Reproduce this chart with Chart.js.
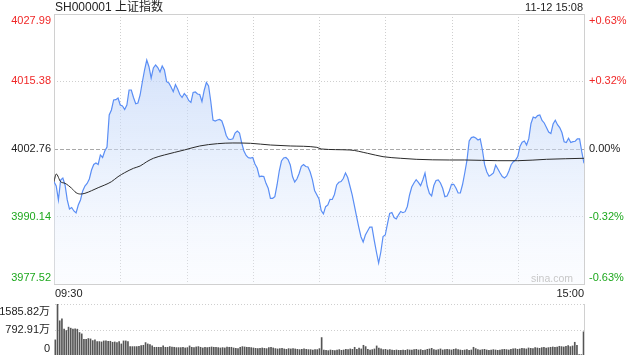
<!DOCTYPE html>
<html>
<head>
<meta charset="utf-8">
<script src="https://cdn.jsdelivr.net/npm/chart.js@4/dist/chart.umd.min.js"></script>
<style>
  html, body { margin: 0; padding: 0; background: #fff; }
  #wrap { position: relative; width: 640px; height: 360px; overflow: hidden; }
  canvas { position: absolute; left: 0; }
  #priceChart { top: 0; }
  #volChart { top: 300px; }
</style>
</head>
<body>
<div id="wrap">
  <canvas id="priceChart" width="640" height="300"></canvas>
  <canvas id="volChart" width="640" height="60"></canvas>
</div>
<script>
// ===== data =====
const title = "SH000001 上证指数";
const stamp = "11-12 15:08";
const prevClose = 4002.76;

// one price per minute, 09:30 .. 11:30 / 13:00 .. 15:00 (241 minutes)
const prices = [
    3996.64, 3995.84, 3993.23, 3996.97, 3997.34, 3996.03, 3993.23, 3991.54, 3991.82, 3991.17,
    3990.80, 3992.29, 3993.23, 3994.91, 3995.84, 3996.31, 3997.15, 3998.83, 3999.86, 4000.14,
    3999.86, 4001.64, 4001.17, 4002.39, 4003.13, 4009.11, 4010.05, 4011.92, 4011.97, 4012.29,
    4010.98, 4010.79, 4010.14, 4010.98, 4013.78, 4013.78, 4012.38, 4011.20, 4011.35, 4012.85,
    4015.28, 4017.52, 4019.39, 4018.14, 4016.03, 4017.90, 4018.46, 4017.99, 4017.15, 4018.27,
    4017.52, 4015.34, 4015.09, 4014.35, 4013.47, 4014.81, 4013.97, 4012.94, 4012.38, 4013.13,
    4012.66, 4011.82, 4011.45, 4013.32, 4013.41, 4013.04, 4012.94, 4011.63, 4013.69, 4015.19,
    4014.53, 4011.63, 4008.18, 4007.99, 4008.18, 4008.27, 4007.99, 4006.77, 4005.28, 4004.59,
    4004.53, 4004.66, 4005.75, 4006.12, 4005.75, 4003.88, 4002.38, 4001.54, 4001.15, 4001.07,
    4001.17, 3999.95, 3999.20, 3997.58, 3997.67, 3997.61, 3996.34, 3995.41, 3993.54, 3993.54,
    3993.84, 3996.03, 3998.64, 4000.51, 4001.07, 4001.17, 4000.79, 3999.76, 3997.61, 3996.59,
    3997.15, 3998.18, 3999.50, 3999.86, 3999.48, 3999.39, 3998.45, 3997.05, 3995.00, 3994.21,
    3993.41, 3991.26, 3990.64, 3991.97, 3992.29, 3993.35, 3993.32, 3994.25, 3996.03, 3996.53,
    3996.68, 3997.24, 3998.29, 3997.43, 3995.84, 3994.21, 3992.23, 3990.17, 3988.17, 3986.36,
    3985.37, 3986.68, 3987.43, 3988.17, 3988.17, 3985.74, 3983.50, 3981.44, 3983.50, 3986.40,
    3986.68, 3988.74, 3990.73, 3990.90, 3989.95, 3989.67, 3990.45, 3991.07, 3990.85, 3991.04,
    3992.01, 3994.16, 3995.65, 3996.40, 3997.02, 3996.51, 3995.91, 3996.96, 3998.27, 3995.84,
    3994.44, 3993.97, 3995.93, 3996.87, 3996.96, 3996.40, 3995.41, 3993.84, 3993.97, 3994.91,
    3996.16, 3996.16, 3995.47, 3994.53, 3994.53, 3996.12, 3998.27, 4000.61, 4004.25, 4004.89,
    4005.00, 4004.81, 4004.44, 4004.63, 4002.57, 3999.82, 3998.45, 3997.67, 3997.95, 3998.27,
    3999.76, 3999.02, 3998.27, 3997.61, 3997.33, 3997.71, 3998.64, 3999.82, 4000.38, 4000.70,
    4001.35, 4003.22, 4004.01, 4004.25, 4003.50, 4004.68, 4007.52, 4008.74, 4008.55, 4009.00,
    4009.11, 4008.08, 4007.62, 4006.77, 4005.93, 4005.65, 4007.43, 4008.12, 4007.30, 4006.76,
    4005.84, 4004.12, 4003.97, 4004.76, 4003.95, 4004.12, 4004.20, 4004.66, 4004.66, 4002.20,
    4000.08
];

// average price line, read at a few minutes
const avgMinutes = [0, 1, 3, 5, 8, 10, 12, 14, 17, 20, 23, 26, 29, 32, 36, 39, 42, 45, 50, 59,
    66, 74, 81, 89, 98, 107, 119, 121, 134, 142, 149, 157, 164, 179, 186, 201, 210, 223, 240];
const avgPrices = [3996.64, 3998.08, 3996.64, 3996.34, 3995.41, 3994.59, 3994.34, 3994.47, 3994.96, 3995.52,
    3996.03, 3996.64, 3997.58, 3998.33, 3999.15, 3999.58, 4000.38, 4001.02, 4001.64, 4002.57,
    4003.32, 4003.75, 4003.88, 4003.82, 4003.50, 4003.32, 4003.07, 4002.76, 4002.57, 4001.95,
    4001.32, 4001.02, 4000.83, 4000.70, 4000.70, 4000.57, 4000.57, 4000.83, 4001.02];

// volume per minute, in 万
const volumes = [
    470, 1585.82, 1064, 1127, 803, 761, 866, 834, 803, 813,
    803, 699, 657, 490, 490, 511, 500, 448, 469, 417,
    417, 406, 438, 438, 427, 427, 396, 406, 386, 417,
    344, 438, 438, 417, 261, 261, 261, 261, 271, 292,
    302, 386, 344, 323, 282, 240, 240, 240, 240, 282,
    240, 240, 261, 250, 240, 230, 230, 230, 240, 220,
    230, 282, 240, 230, 250, 261, 240, 220, 240, 230,
    240, 250, 240, 240, 230, 219, 230, 220, 250, 240,
    240, 219, 208, 200, 240, 260, 250, 240, 240, 230,
    219, 208, 200, 208, 219, 208, 198, 230, 240, 219,
    200, 188, 198, 208, 188, 177, 198, 188, 198, 188,
    177, 167, 177, 188, 177, 167, 167, 156, 167, 167,
    198, 542, 156, 146, 135, 156, 146, 135, 156, 167,
    146, 156, 177, 167, 188, 177, 240, 177, 219, 188,
    302, 261, 177, 156, 167, 188, 282, 219, 188, 167,
    177, 156, 167, 156, 146, 156, 146, 146, 156, 146,
    167, 156, 156, 167, 177, 156, 167, 146, 156, 177,
    188, 208, 167, 156, 167, 188, 156, 167, 177, 167,
    156, 177, 188, 167, 156, 146, 156, 167, 146, 156,
    240, 198, 167, 156, 167, 177, 156, 146, 156, 167,
    156, 146, 156, 167, 177, 167, 156, 177, 188, 198,
    177, 188, 208, 198, 188, 219, 208, 198, 229, 219,
    208, 229, 240, 219, 229, 240, 250, 240, 250, 271,
    261, 250, 271, 292, 261, 282, 396, 302, 10, 10,
    720
];

const priceTicks = [4027.99, 4015.38, 4002.76, 3990.14, 3977.52];
const pctTicks = ["+0.63%", "+0.32%", "0.00%", "-0.32%", "-0.63%"];
const timeTicks = [0, 30, 60, 90, 120, 150, 180, 210, 240];
const timeLabels = ["09:30", "15:00"];
const volTicks = [1585.82, 792.91, 0];
const volLabels = ["1585.82万", "792.91万", "0"];
const watermark = "sina.com";

// ===== styles =====
const FONT = '"Liberation Sans", Arial, "Noto Sans CJK SC", sans-serif';
const RED = "#f02828";
const GREEN = "#1ea81e";
const GRID = "#cfcfcf";

function tickColor(i) {
    if (i < 2) return RED;
    if (i > 2) return GREEN;
    return "#222";
}

function hLine(ctx, x1, x2, y) {
    ctx.beginPath();
    ctx.moveTo(x1, y);
    ctx.lineTo(x2, y);
    ctx.stroke();
}
function vLine(ctx, x, y1, y2) {
    ctx.beginPath();
    ctx.moveTo(x, y1);
    ctx.lineTo(x, y2);
    ctx.stroke();
}

// ===== grid + labels for the price panel =====
const priceFrame = {
    id: "priceFrame",
    beforeDatasetsDraw(chart) {
        const { ctx, chartArea: a, scales: { x, y } } = chart;
        ctx.save();
        ctx.lineWidth = 1;
        ctx.strokeStyle = GRID;
        ctx.setLineDash([1, 2]);
        timeTicks.slice(1, -1).forEach((t) => {
            vLine(ctx, Math.round(x.getPixelForValue(t)) + 0.5, a.top, a.bottom);
        });
        [priceTicks[1], priceTicks[3]].forEach((v) => {
            hLine(ctx, a.left, a.right, Math.round(y.getPixelForValue(v)) + 0.5);
        });
        // previous close line
        ctx.strokeStyle = "#a8a8a8";
        ctx.setLineDash([4, 2]);
        hLine(ctx, a.left, a.right, Math.round(y.getPixelForValue(prevClose)) + 0.5);
        // frame
        ctx.setLineDash([]);
        ctx.strokeStyle = "#d0d0d0";
        ctx.strokeRect(Math.round(a.left) + 0.5, Math.round(a.top) + 0.5,
            Math.round(a.right - a.left), Math.round(a.bottom - a.top));
        ctx.restore();
    },
    afterDraw(chart) {
        const { ctx, chartArea: a, scales: { x, y } } = chart;
        ctx.save();
        ctx.font = "11px " + FONT;
        ctx.textBaseline = "middle";
        priceTicks.forEach((v, i) => {
            let py = y.getPixelForValue(v);
            if (i === 0) py += 6.5;
            if (i === priceTicks.length - 1) py -= 6;
            ctx.fillStyle = tickColor(i);
            ctx.textAlign = "right";
            ctx.fillText(v.toFixed(2), a.left - 3, py);
            ctx.textAlign = "left";
            ctx.fillText(pctTicks[i], a.right + 5, py);
        });
        // time labels
        ctx.fillStyle = "#222";
        ctx.textAlign = "left";
        ctx.fillText(timeLabels[0], x.getPixelForValue(timeTicks[0]) + 1, a.bottom + 9.5);
        ctx.textAlign = "right";
        ctx.fillText(timeLabels[1], x.getPixelForValue(timeTicks[timeTicks.length - 1]), a.bottom + 9.5);
        // stamp + title
        ctx.fillText(stamp, a.right - 1, 7.5);
        ctx.textAlign = "left";
        ctx.font = "12px " + FONT;
        ctx.fillText(title, a.left + 1, 7.5);
        // watermark
        ctx.font = "10.5px " + FONT;
        ctx.fillStyle = "#c8c8c8";
        ctx.textAlign = "right";
        ctx.fillText(watermark, a.right - 11, a.bottom - 5);
        ctx.restore();
    }
};

new Chart(document.getElementById("priceChart"), {
    type: "line",
    data: {
        datasets: [
            {
                data: avgMinutes.map((m, i) => ({ x: m, y: avgPrices[i] })),
                borderColor: "#2a2a2a",
                borderWidth: 1,
                pointRadius: 0,
                tension: 0.35,
                cubicInterpolationMode: "monotone",
                fill: false,
                order: 0
            },
            {
                data: prices.map((p, i) => ({ x: i, y: p })),
                borderColor: "#5a8ef5",
                borderWidth: 1.2,
                pointRadius: 0,
                tension: 0,
                fill: "start",
                backgroundColor: (c) => {
                    const a = c.chart.chartArea;
                    if (!a) return "rgba(200,215,250,0.5)";
                    const g = c.chart.ctx.createLinearGradient(0, a.top, 0, a.bottom);
                    g.addColorStop(0, "rgba(185,207,248,0.75)");
                    g.addColorStop(0.5, "rgba(205,222,250,0.5)");
                    g.addColorStop(1, "rgba(240,245,255,0.25)");
                    return g;
                },
                order: 1
            }
        ]
    },
    options: {
        responsive: false,
        animation: false,
        events: [],
        layout: { padding: { left: 54, right: 56, top: 14, bottom: 16 } },
        scales: {
            x: { type: "linear", display: false, min: timeTicks[0], max: timeTicks[timeTicks.length - 1] },
            y: { display: false, min: priceTicks[priceTicks.length - 1], max: priceTicks[0] }
        },
        plugins: { legend: { display: false }, tooltip: { enabled: false } }
    },
    plugins: [priceFrame]
});

// ===== volume panel =====
const volFrame = {
    id: "volFrame",
    beforeDatasetsDraw(chart) {
        const { ctx, chartArea: a, scales: { y } } = chart;
        ctx.save();
        ctx.lineWidth = 1;
        ctx.strokeStyle = GRID;
        ctx.setLineDash([1, 2]);
        volTicks.slice(0, 2).forEach((v) => {
            hLine(ctx, a.left + 1, a.right, Math.round(y.getPixelForValue(v)) + 0.5);
        });
        ctx.setLineDash([]);
        ctx.strokeStyle = "#d0d0d0";
        vLine(ctx, Math.round(a.right) + 0.5, a.top, a.bottom);
        ctx.restore();
    },
    afterDraw(chart) {
        const { ctx, chartArea: a, scales: { y } } = chart;
        ctx.save();
        ctx.font = "11px " + FONT;
        ctx.textBaseline = "middle";
        ctx.textAlign = "right";
        ctx.fillStyle = "#222";
        volTicks.forEach((v, i) => {
            let py = y.getPixelForValue(v);
            if (i === 0) py += 7.5;
            if (i === volTicks.length - 1) py -= 6.5;
            ctx.fillText(volLabels[i], a.left - 4, py);
        });
        ctx.restore();
    }
};

new Chart(document.getElementById("volChart"), {
    type: "bar",
    data: {
        datasets: [{
            data: volumes.map((v, i) => ({ x: i, y: v })),
            backgroundColor: "#555555",
            barThickness: 1
        }]
    },
    options: {
        responsive: false,
        animation: false,
        events: [],
        layout: { padding: { left: 54, right: 56, top: 4, bottom: 5 } },
        scales: {
            x: { type: "linear", display: false, offset: false, grid: { offset: false }, min: -0.6, max: 240.2 },
            y: { display: false, min: 0, max: volTicks[0] }
        },
        plugins: { legend: { display: false }, tooltip: { enabled: false } }
    },
    plugins: [volFrame]
});
</script>
</body>
</html>
